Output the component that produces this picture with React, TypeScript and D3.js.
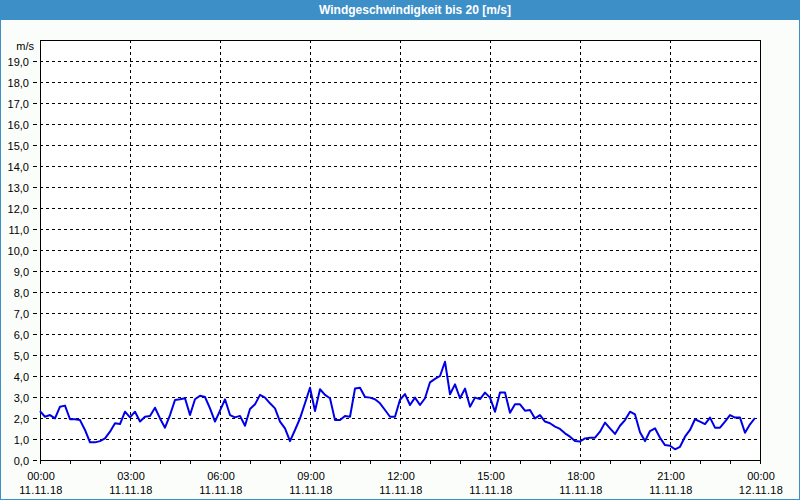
import React from "react";
import * as d3 from "d3";

const title = "Windgeschwindigkeit bis 20 [m/s]";
const unitLabel = "m/s";
// wind speed every 10 minutes from 11.11.18 00:00
const windSpeed = [
  2.33, 2.06, 2.14, 1.98, 2.54, 2.59, 1.94, 1.94, 1.9, 1.43,
  0.84, 0.84, 0.9, 1.03, 1.35, 1.75, 1.71, 2.3, 2.03, 2.3,
  1.83, 2.06, 2.1, 2.49, 1.98, 1.54, 2.14, 2.86, 2.89, 2.94,
  2.14, 2.89, 3.06, 3.0, 2.46, 1.83, 2.35, 2.89, 2.14, 2.03,
  2.1, 1.63, 2.43, 2.65, 3.1, 2.97, 2.7, 2.46, 1.83, 1.51,
  0.9, 1.43, 1.98, 2.7, 3.44, 2.33, 3.37, 3.1, 2.94, 1.9,
  1.9, 2.1, 2.06, 3.4, 3.44, 3.0, 2.97, 2.89, 2.7, 2.38,
  2.06, 2.06, 2.87, 3.14, 2.62, 2.97, 2.62, 2.94, 3.7, 3.86,
  4.0, 4.68, 3.13, 3.6, 2.94, 3.4, 2.54, 2.97, 2.9, 3.21,
  2.97, 2.3, 3.21, 3.21, 2.25, 2.65, 2.65, 2.35, 2.38, 1.98,
  2.14, 1.83, 1.75, 1.59, 1.48, 1.27, 1.11, 0.9, 0.88, 1.03,
  1.06, 1.06, 1.35, 1.78, 1.51, 1.24, 1.63, 1.9, 2.3, 2.17,
  1.32, 0.9, 1.38, 1.51, 1.06, 0.71, 0.68, 0.51, 0.63, 1.11,
  1.43, 1.94, 1.83, 1.71, 2.02, 1.54, 1.54, 1.83, 2.14, 2.02,
  2.02, 1.3, 1.7, 2.0,
];
const stepMinutes = 10;
const timeLabels = ["00:00", "03:00", "06:00", "09:00", "12:00", "15:00", "18:00", "21:00", "00:00"];
const dateLabels = ["11.11.18", "11.11.18", "11.11.18", "11.11.18", "11.11.18", "11.11.18", "11.11.18", "11.11.18", "12.11.18"];
const yTicks = d3.range(0, 20, 1);

const W = 800;
const H = 500;
const blue = "#3d8fc7";
const font = "'Liberation Sans', Arial, sans-serif";

export default function App() {
  const x = d3.scaleLinear().domain([0, 24]).range([40, 760]);
  const y = d3.scaleLinear().domain([0, 20]).range([460, 40]);
  const line = d3
    .line<number>()
    .x((_, i) => x((i * stepMinutes) / 60))
    .y((d) => y(d));
  const majorHours = d3.range(0, 25, 3);
  const minorHours = d3.range(0, 25, 1);

  return (
    <svg width={W} height={H} style={{ position: "absolute", left: 0, top: 0 }} fontFamily={font}>
      <rect x={0} y={0} width={W} height={H} fill="#fbfdfb" />
      <rect x={0} y={0} width={W} height={20} fill={blue} />
      <text x={415} y={14} fill="#fff" fontSize={12} fontWeight="bold" textAnchor="middle">
        {title}
      </text>
      <rect x={0.5} y={0.5} width={W - 1} height={H - 1} fill="none" stroke={blue} strokeWidth={1} />
      <rect x={x(0)} y={y(20)} width={x(24) - x(0)} height={y(0) - y(20)} fill="#ffffff" />
      {/* horizontal grid */}
      {yTicks.filter((v) => v > 0).map((v) => (
        <line key={"hg" + v} x1={x(0)} x2={x(24)} y1={y(v) + 0.5} y2={y(v) + 0.5}
          stroke="#000" strokeWidth={1} strokeDasharray="3,3" shapeRendering="crispEdges" />
      ))}
      {/* vertical grid */}
      {majorHours.filter((h) => h > 0 && h < 24).map((h) => (
        <line key={"vg" + h} x1={x(h) + 0.5} x2={x(h) + 0.5} y1={y(20)} y2={y(0)}
          stroke="#000" strokeWidth={1} strokeDasharray="3,3" shapeRendering="crispEdges" />
      ))}
      {/* y tick marks and labels */}
      {yTicks.map((v) => (
        <g key={"yt" + v}>
          <line x1={33} x2={37} y1={y(v) + 0.5} y2={y(v) + 0.5} stroke="#000" shapeRendering="crispEdges" />
          <text x={29} y={y(v) + 5} fontSize={11} textAnchor="end" fill="#000">
            {d3.format(".1f")(v).replace(".", ",")}
          </text>
        </g>
      ))}
      <text x={34} y={50} fontSize={11} textAnchor="end" fill="#000">{unitLabel}</text>
      {/* x tick marks */}
      {minorHours.map((h) => (
        <line key={"xt" + h} x1={x(h) + 0.5} x2={x(h) + 0.5} y1={y(0)} y2={y(0) + 4}
          stroke="#000" shapeRendering="crispEdges" />
      ))}
      {majorHours.map((h, i) => (
        <g key={"xl" + h}>
          <text x={x(h) + 1} y={480} fontSize={11} textAnchor="middle" fill="#000">{timeLabels[i]}</text>
          <text x={x(h) + 1} y={494} fontSize={11} textAnchor="middle" fill="#000" letterSpacing={0.3}>{dateLabels[i]}</text>
        </g>
      ))}
      {/* frame */}
      <rect x={x(0) + 0.5} y={y(20) + 0.5} width={x(24) - x(0)} height={y(0) - y(20)} fill="none"
        stroke="#000" strokeWidth={1} shapeRendering="crispEdges" />
      <path d={line(windSpeed) ?? ""} fill="none" stroke="#0000e8" strokeWidth={2} strokeLinejoin="round" />
    </svg>
  );
}
